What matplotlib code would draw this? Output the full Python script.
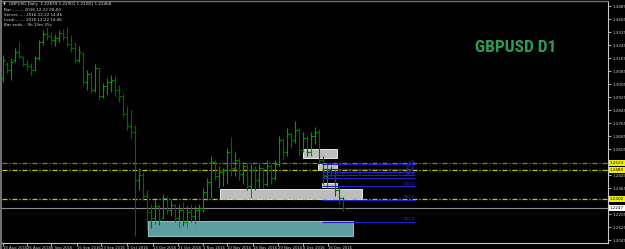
import matplotlib
matplotlib.use("Agg")
import matplotlib.pyplot as plt
from matplotlib.patches import Rectangle
from matplotlib import font_manager

# ---------------- data ----------------
highs = [1.3188, 1.3145, 1.3169, 1.3231, 1.3268, 1.3182, 1.3157, 1.3139, 1.3182, 1.3280,
         1.3341, 1.3360, 1.3329, 1.3317, 1.3341, 1.3348, 1.3360, 1.3311, 1.3268, 1.3243,
         1.3206, 1.3095, 1.3083, 1.3132, 1.3108, 1.3016, 1.3046, 1.3065, 1.3059, 1.3003,
         1.2954, 1.2874, 1.2849, 1.2757, 1.2493, 1.2468, 1.2357, 1.2271, 1.2296, 1.2265,
         1.2333, 1.2321, 1.2296, 1.2271, 1.2271, 1.2284, 1.2259, 1.2271, 1.2259, 1.2271,
         1.2370, 1.2431, 1.2567, 1.2542, 1.2505, 1.2493, 1.2616, 1.2683, 1.2591, 1.2554,
         1.2530, 1.2517, 1.2517, 1.2505, 1.2517, 1.2493, 1.2542, 1.2517, 1.2542, 1.2690,
         1.2677, 1.2739, 1.2714, 1.2782, 1.2739, 1.2714, 1.2690, 1.2714, 1.2745, 1.2733,
         1.2567, 1.2517, 1.2505, 1.2480, 1.2382, 1.2314]
lows = [1.3022, 1.3077, 1.3034, 1.3145, 1.3169, 1.3120, 1.3095, 1.3065, 1.3095, 1.3157,
        1.3249, 1.3280, 1.3255, 1.3243, 1.3268, 1.3280, 1.3243, 1.3206, 1.3139, 1.3145,
        1.3003, 1.2972, 1.2954, 1.2960, 1.2911, 1.2923, 1.2942, 1.2960, 1.2936, 1.2899,
        1.2806, 1.2726, 1.2677, 1.2075, 1.2357, 1.2296, 1.2111, 1.2124, 1.2148, 1.2142,
        1.2185, 1.2210, 1.2198, 1.2161, 1.2124, 1.2136, 1.2124, 1.2161, 1.2148, 1.2173,
        1.2222, 1.2296, 1.2308, 1.2419, 1.2370, 1.2382, 1.2394, 1.2444, 1.2444, 1.2419,
        1.2394, 1.2357, 1.2308, 1.2357, 1.2370, 1.2370, 1.2382, 1.2394, 1.2419, 1.2505,
        1.2542, 1.2567, 1.2616, 1.2647, 1.2567, 1.2591, 1.2567, 1.2567, 1.2640, 1.2517,
        1.2394, 1.2370, 1.2444, 1.2321, 1.2271, 1.2228]
opens = [1.3046, 1.3132, 1.3095, 1.3157, 1.3206, 1.3175, 1.3132, 1.3120, 1.3095, 1.3169,
         1.3268, 1.3317, 1.3305, 1.3280, 1.3292, 1.3323, 1.3298, 1.3255, 1.3231, 1.3157,
         1.3194, 1.3022, 1.3071, 1.2972, 1.3108, 1.2936, 1.2997, 1.3022, 1.3034, 1.2972,
         1.2936, 1.2825, 1.2751, 1.2714, 1.2419, 1.2450, 1.2321, 1.2222, 1.2185, 1.2259,
         1.2185, 1.2308, 1.2234, 1.2265, 1.2185, 1.2234, 1.2161, 1.2222, 1.2198, 1.2234,
         1.2247, 1.2345, 1.2407, 1.2530, 1.2444, 1.2468, 1.2480, 1.2591, 1.2493, 1.2542,
         1.2456, 1.2505, 1.2382, 1.2480, 1.2419, 1.2493, 1.2394, 1.2505, 1.2431, 1.2517,
         1.2665, 1.2591, 1.2702, 1.2665, 1.2726, 1.2603, 1.2677, 1.2591, 1.2690, 1.2714,
         1.2542, 1.2444, 1.2480, 1.2468, 1.2357, 1.2308]
closes = [1.3157, 1.3095, 1.3145, 1.3206, 1.3182, 1.3132, 1.3120, 1.3095, 1.3169, 1.3268,
          1.3317, 1.3305, 1.3280, 1.3292, 1.3323, 1.3298, 1.3255, 1.3231, 1.3157, 1.3206,
          1.3022, 1.3071, 1.2972, 1.3108, 1.2936, 1.2997, 1.3022, 1.3034, 1.2972, 1.2936,
          1.2825, 1.2751, 1.2714, 1.2419, 1.2450, 1.2321, 1.2222, 1.2185, 1.2259, 1.2173,
          1.2308, 1.2234, 1.2265, 1.2185, 1.2234, 1.2161, 1.2222, 1.2198, 1.2234, 1.2247,
          1.2345, 1.2407, 1.2530, 1.2444, 1.2468, 1.2480, 1.2591, 1.2493, 1.2542, 1.2456,
          1.2505, 1.2382, 1.2480, 1.2419, 1.2493, 1.2394, 1.2505, 1.2431, 1.2517, 1.2665,
          1.2591, 1.2702, 1.2665, 1.2726, 1.2603, 1.2677, 1.2591, 1.2690, 1.2714, 1.2542,
          1.2444, 1.2480, 1.2468, 1.2357, 1.2308, 1.2247]

date_labels = ["18 Aug 2016", "26 Aug 2016", "6 Sep 2016", "15 Sep 2016", "23 Sep 2016",
               "4 Oct 2016", "13 Oct 2016", "21 Oct 2016", "1 Nov 2016", "10 Nov 2016",
               "18 Nov 2016", "29 Nov 2016", "8 Dec 2016", "16 Dec 2016"]
date_bars = [0, 6, 12, 18.5, 24.5, 31, 37.5, 43.75, 50, 56, 62.5, 68.75, 75, 81.25]

price_ticks = [1.3489, 1.3409, 1.3329, 1.3249, 1.3169, 1.3089, 1.3009, 1.2929, 1.2849,
               1.2769, 1.2689, 1.2609, 1.2449, 1.2369, 1.2209, 1.2129, 1.2049]

hlines_levels = [1.2523, 1.2480, 1.2302]
hlines_labels = ["1.2523", "1.2480", "1.2302"]
hlines_colors = ["#8a8a00", "#c8c800", "#c8c800"]
bid = 1.2247

# zones: (bar_start, bar_end, price_low, price_high, kind)
zones = [
    (36.25, 87.5, 1.2075, 1.2167, "teal"),
    (54.25, 89.75, 1.2302, 1.2364, "gray"),
    (75.0, 83.5, 1.2554, 1.2610, "gray"),
    (78.75, 83.5, 1.2480, 1.2517, "gray"),
    (79.75, 83.5, 1.2376, 1.2400, "gray"),
]

fib_start, fib_end = 79.75, 103.0
fib_p0, fib_p100 = 1.2517, 1.2382
fib_levels = [0.0, 23.6, 38.2, 50.0, 61.8, 100.0, 161.8, 261.8]

info_lines = ["GBPUSD,Daily  1.22839 1.22901 1.22281 1.22468",
              "Bar.........: 2016.12.22 00:00",
              "Server.....: 2016.12.22 14:46",
              "Local.......: 2016.12.22 14:46",
              "Bar ends..: 9h 13m 25s"]

# pick a condensed bold family for the title if one is installed
names = {f.name for f in font_manager.fontManager.ttflist}
title_family = "DejaVu Sans"
title_size = 10.5
for cand in ["Liberation Sans Narrow", "DejaVu Sans Condensed", "Roboto Condensed",
             "Open Sans Condensed", "Noto Sans Condensed"]:
    if cand in names:
        title_family = cand
        title_size = 12.5
        break

# ---------------- figure ----------------
W, H = 625, 249
fig = plt.figure(figsize=(W / 100, H / 100), dpi=100, facecolor="black")
ax = fig.add_axes([2 / W, 6 / H, 606 / W, 241 / H], facecolor="black")

ymax = 1.35259 - 0.000615 * 2
ymin = 1.35259 - 0.000615 * 243
ax.set_ylim(ymin, ymax)
ax.set_xlim(-0.25, 151.25)

axis_col = "#c8c8c8"
for s in ["left", "top"]:
    ax.spines[s].set_visible(False)
for s in ["right", "bottom"]:
    ax.spines[s].set_color(axis_col)
    ax.spines[s].set_linewidth(0.8)

# zones
for x0, x1, p0, p1, kind in zones:
    if kind == "teal":
        fc, ec = "#5f9ea0", "#8cc4c4"
    else:
        fc, ec = "#bdbdbd", "#e6e6e6"
    ax.add_patch(Rectangle((x0, p0), x1 - x0, p1 - p0, facecolor=fc, edgecolor=ec,
                           linewidth=0.7, zorder=1))

# horizontal dash-dot lines
for lvl, col in zip(hlines_levels, hlines_colors):
    ax.axhline(lvl, color=col, lw=0.9, linestyle=(0, (4, 1.5, 1, 1.5)), zorder=2)
ax.axhline(bid, color="#8c8c8c", lw=0.8, zorder=2)

# bars
idx = list(range(len(closes)))
up = "#009a00"
dn = "#006a00"
cols = [up if c >= o else dn for o, c in zip(opens, closes)]
ax.vlines(idx, lows, highs, colors=cols, lw=0.8, zorder=3)
ax.hlines(opens, [i - 0.5 for i in idx], idx, colors=cols, lw=0.8, zorder=3)
ax.hlines(closes, idx, [i + 0.5 for i in idx], colors=cols, lw=0.8, zorder=3)

# fibonacci
for lv in fib_levels:
    p = fib_p0 - (fib_p0 - fib_p100) * lv / 100.0
    ax.hlines(p, fib_start, fib_end, colors="#2020d0", lw=0.8, zorder=4)
    ax.text(fib_end, p + 0.0003, f"{lv:.1f}", color="#3030e0", fontsize=3.0,
            ha="right", va="bottom", zorder=5)

# axes ticks
ax.yaxis.tick_right()
ax.set_yticks(price_ticks)
ax.set_yticklabels([f"{p:.4f}" for p in price_ticks])
ax.tick_params(axis="y", length=2, width=0.6, pad=1.0, labelsize=3.0,
               colors=axis_col, labelcolor="#d0d0d0")
ax.set_xticks(date_bars)
ax.set_xticklabels(date_labels, ha="left")
ax.tick_params(axis="x", length=2, width=0.6, pad=0.2, labelsize=2.7,
               colors=axis_col, labelcolor="#d0d0d0")

# price labels on the right axis
ytr = ax.get_yaxis_transform()
for lvl, lab in zip(hlines_levels, hlines_labels):
    ax.text(1.003, lvl, lab, transform=ytr, fontsize=3.0, color="black",
            ha="left", va="center", clip_on=False,
            bbox=dict(boxstyle="square,pad=0.2", fc="#f0f000", ec="none"))
ax.text(1.003, bid, f"{bid:.4f}", transform=ytr, fontsize=3.0, color="black",
        ha="left", va="center", clip_on=False,
        bbox=dict(boxstyle="square,pad=0.2", fc="white", ec="none"))

# title
fig.text(475 / W, 1 - 47 / H, "GBPUSD D1", color="#2e9a5a", fontsize=title_size,
         fontweight="bold", family=[title_family, "DejaVu Sans"],
         ha="left", va="center")

# info lines
fig.text(3 / W, 1 - 4 / H, "▼", color="#d0d0d0", fontsize=2.6, ha="left", va="center")
ys = [4, 10, 15, 20, 25]
for i, (t, yy) in enumerate(zip(info_lines, ys)):
    fig.text((9 if i == 0 else 4) / W, 1 - yy / H, t, color="#d8d8d8", fontsize=3.0,
             ha="left", va="center")

# window borders
fig.add_artist(plt.Line2D([1 / W, 1 / W], [0, 1], color="#707070", lw=1.5,
                          transform=fig.transFigure))
fig.add_artist(plt.Line2D([0, 608 / W], [1 - 1 / H, 1 - 1 / H], color="#707070", lw=1.0,
                          transform=fig.transFigure))

fig.savefig("out.png", dpi=100, facecolor="black")
